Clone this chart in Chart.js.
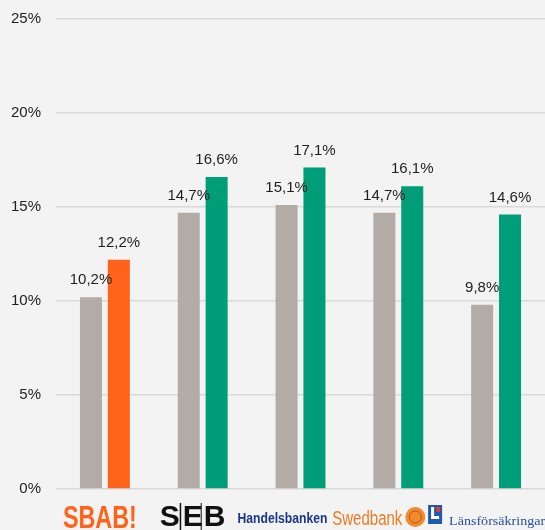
<!DOCTYPE html>
<html>
<head>
<meta charset="utf-8">
<script src="https://cdn.jsdelivr.net/npm/chart.js@4"></script>
<style>
  html, body { margin: 0; padding: 0; background: #f3f3f3; }
  #wrap { width: 545px; height: 530px; }
</style>
</head>
<body>
<div id="wrap"><canvas id="barChart" width="545" height="530"></canvas></div>
<script>
// banker på x-axeln
const banker = ["SBAB!", "SEB", "Handelsbanken", "Swedbank", "Länsförsäkringar"];
// grå staplar (föregående period)
const tidigare = [10.2, 14.7, 15.1, 14.7, 9.8];
// färgade staplar (senaste)
const senaste = [12.2, 16.6, 17.1, 16.1, 14.6];
const yTicks = [0, 5, 10, 15, 20, 25];

const fmt = v => v.toFixed(1).replace(".", ",") + "%";

// etiketter ovanför staplarna
const etiketter = {
  id: "etiketter",
  afterDatasetsDraw(chart) {
    const ctx = chart.ctx;
    ctx.save();
    ctx.font = "15px 'Liberation Sans', Arial, sans-serif";
    ctx.fillStyle = "#1e1e1e";
    ctx.textAlign = "center";
    ctx.textBaseline = "alphabetic";
    chart.data.datasets.forEach((ds, i) => {
      chart.getDatasetMeta(i).data.forEach((bar, j) => {
        ctx.fillText(fmt(ds.data[j]), bar.x, bar.y - 13);
      });
    });
    ctx.restore();
  }
};

// ungefärliga logotyper under axeln
function fitText(ctx, txt, x, y, w) {
  const m = ctx.measureText(txt).width;
  ctx.save();
  ctx.translate(x, y);
  ctx.scale(w / m, 1);
  ctx.fillText(txt, 0, 0);
  ctx.restore();
}

const logos = {
  id: "logos",
  afterDraw(chart) {
    const ctx = chart.ctx;
    const xs = chart.scales.x;
    const c = banker.map((b, i) => xs.getPixelForValue(i));
    const base = 526;
    ctx.save();
    ctx.textAlign = "left";
    ctx.textBaseline = "alphabetic";

    // SBAB!
    ctx.fillStyle = "#ff6319";
    ctx.font = "bold 32px 'Liberation Sans Narrow', 'Liberation Sans', sans-serif";
    fitText(ctx, banker[0], c[0] - 42, base + 2, 74);

    // SEB
    ctx.fillStyle = "#111";
    ctx.font = "bold 30px 'Liberation Sans', Arial, sans-serif";
    const sx = c[1] - 43;
    ctx.fillText("S", sx, base);
    ctx.fillText("E", sx + 23, base);
    ctx.fillText("B", sx + 44, base);
    ctx.fillRect(sx + 20, 503, 1.5, 27);
    ctx.fillRect(sx + 41, 503, 1, 27);

    // Handelsbanken
    ctx.fillStyle = "#1b3689";
    ctx.font = "bold 14px 'Liberation Sans', Arial, sans-serif";
    fitText(ctx, banker[2], c[2] - 63, base - 3, 90);

    // Swedbank
    ctx.fillStyle = "#f07b22";
    ctx.font = "20px 'Liberation Sans', Arial, sans-serif";
    fitText(ctx, banker[3], c[3] - 66, base - 1, 70);
    ctx.beginPath();
    ctx.arc(c[3] + 17, 517, 10, 0, Math.PI * 2);
    ctx.fillStyle = "#f08a2a";
    ctx.fill();
    ctx.strokeStyle = "#b8561a";
    ctx.lineWidth = 1;
    ctx.beginPath();
    ctx.arc(c[3] + 17, 517, 6, 0, Math.PI * 2);
    ctx.stroke();

    // Länsförsäkringar
    const lx = c[4] - 68;
    ctx.fillStyle = "#1f5ab0";
    ctx.fillRect(lx, 505, 14, 19);
    ctx.fillStyle = "#fff";
    ctx.fillRect(lx + 3, 507, 3, 12);
    ctx.fillRect(lx + 3, 516, 8, 3);
    ctx.fillStyle = "#e43a2f";
    ctx.fillRect(lx + 8, 507, 4, 5);
    ctx.fillStyle = "#2a4f9c";
    ctx.font = "12px 'Liberation Serif', 'DejaVu Serif', serif";
    fitText(ctx, banker[4], lx + 21, base - 1, 96);
    ctx.restore();
  }
};

new Chart(document.getElementById("barChart").getContext("2d"), {
  type: "bar",
  data: {
    labels: banker,
    datasets: [
      {
        label: "Tidigare",
        data: tidigare,
        backgroundColor: "#b3aca6",
        categoryPercentage: 0.57,
        barPercentage: 0.79
      },
      {
        label: "Senaste",
        data: senaste,
        backgroundColor: ["#ff6319", "#009e78", "#009e78", "#009e78", "#009e78"],
        categoryPercentage: 0.57,
        barPercentage: 0.79
      }
    ]
  },
  options: {
    responsive: false,
    animation: false,
    layout: { padding: { top: 19, right: 0, bottom: 41, left: 0 } },
    plugins: {
      legend: { display: false },
      tooltip: { enabled: false }
    },
    scales: {
      x: {
        grid: { display: false },
        border: { display: false },
        ticks: { display: false },
        afterFit: s => { s.height = 0; s.paddingLeft = 0; s.paddingRight = 0; }
      },
      y: {
        min: 0,
        max: 25,
        afterFit: s => { s.width = 56; s.paddingTop = 0; s.paddingBottom = 0; },
        afterBuildTicks: s => { s.ticks = yTicks.map(v => ({ value: v })); },
        grid: { color: "#d9d9d9", lineWidth: 1.5, drawTicks: false },
        border: { display: false },
        ticks: {
          padding: 15,
          color: "#1e1e1e",
          font: { size: 15, family: "'Liberation Sans', Arial, sans-serif" },
          callback: v => v + "%"
        }
      }
    }
  },
  plugins: [etiketter, logos]
});
</script>
</body>
</html>
